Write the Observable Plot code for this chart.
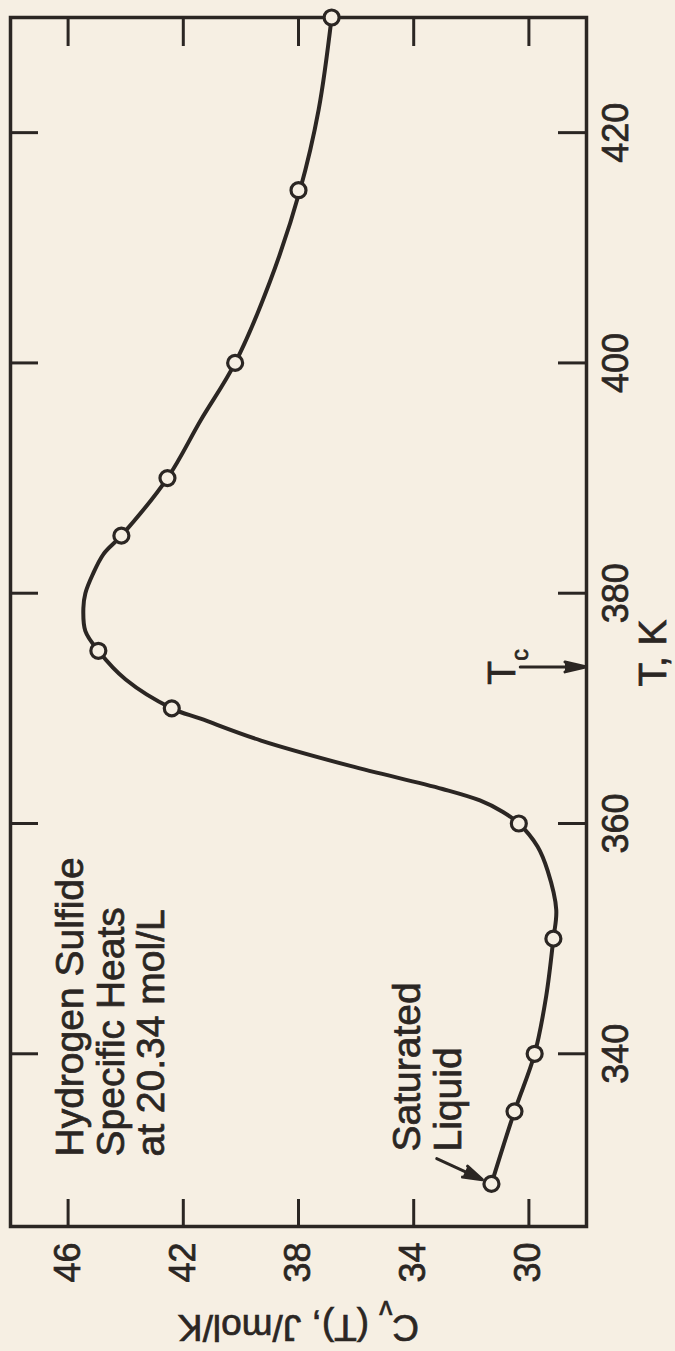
<!DOCTYPE html>
<html>
<head>
<meta charset="utf-8">
<script src="https://cdn.jsdelivr.net/npm/d3@7"></script>
<script src="https://cdn.jsdelivr.net/npm/@observablehq/plot@0.6"></script>
<style>
html, body { margin: 0; padding: 0; background: #f6efe3; overflow: hidden; width: 675px; height: 1351px; }
#wrap { position: absolute; left: 0; top: 0; width: 1351px; height: 675px; transform-origin: 0 0; transform: translate(0, 1351px) rotate(-90deg); }
#wrap text { stroke: #2b2623; stroke-width: 0.7px; }
</style>
</head>
<body>
<div id="wrap"></div>
<script>
// Measured data points (temperature in K, Cv in J/mol/K)
const pointT  = [328.7, 335, 340, 350, 360, 370, 375, 385, 390, 400, 415, 430];
const pointCv = [31.3, 30.5, 29.8, 29.15, 30.35, 42.4, 44.95, 44.15, 42.55, 40.2, 38.0, 36.85];

// Smooth curve
const curveT  = [328.7, 335, 340, 345, 350, 352.5, 355.9, 358, 360, 361, 362, 363, 365, 367.2, 369.1, 370, 372.5, 375, 376.7, 378.7, 380, 381.6, 383.4, 385, 390, 395, 400, 407, 415, 422, 430];
const curveCv = [31.3, 30.5, 29.8, 29.4, 29.15, 29.05, 29.35, 29.7, 30.35, 30.9, 31.7, 33.0, 36.2, 39.3, 41.4, 42.4, 44.0, 44.95, 45.4, 45.47, 45.4, 45.15, 44.77, 44.15, 42.55, 41.4, 40.2, 39.0, 37.95, 37.3, 36.85];

// Axes
const tDomain  = [325, 430];
const cvDomain = [28, 48];
const tTicks  = [340, 360, 380, 400, 420];
const cvTicks = [30, 34, 38, 42, 46];
const axisLabels = ["T, K", "Cv (T), J/mol/K"];

// Annotations
const titleLines = ["Hydrogen Sulfide", "Specific Heats", "at 20.34 mol/L"];
const noteLines  = ["Saturated", "Liquid"];
const criticalT  = [373.6];
const criticalArrowCv = [30.3, 28.0];
const satArrowT  = [330.9, 328.7];
const satArrowCv = [33.2, 31.3];

const ink = "#2b2623";
const bg = "#f6efe3";

const points = pointT.map((t, i) => ({T: t, Cv: pointCv[i]}));
const curve = curveT.map((t, i) => ({T: t, Cv: curveCv[i]}));

const chart = Plot.plot({
  width: 1351,
  height: 675,
  marginLeft: 124,
  marginRight: 18,
  marginTop: 10,
  marginBottom: 89,
  style: {background: "transparent", fontFamily: "'Liberation Sans', Arial, sans-serif", fontSize: "36px", color: ink},
  x: {domain: tDomain},
  y: {domain: cvDomain},
  marks: [
    Plot.ruleX(tTicks, {x: d => d, insetTop: 548, stroke: ink, strokeWidth: 3}),
    Plot.ruleX(tTicks, {x: d => d, insetBottom: 548, stroke: ink, strokeWidth: 3}),
    Plot.ruleY(cvTicks, {y: d => d, insetRight: 1181, stroke: ink, strokeWidth: 3}),
    Plot.ruleY(cvTicks, {y: d => d, insetLeft: 1181, stroke: ink, strokeWidth: 3}),
    Plot.axisX({ticks: tTicks, tickSize: 0, tickPadding: 16, label: null, fontSize: 36, fill: ink}),
    Plot.axisY({ticks: cvTicks, tickSize: 0, tickPadding: 16, label: null, fontSize: 36, fill: ink}),
    Plot.line(curve, {x: "T", y: "Cv", curve: "catmull-rom", stroke: ink, strokeWidth: 4}),
    Plot.frame({stroke: ink, strokeWidth: 3.5}),
    Plot.dot(points, {x: "T", y: "Cv", r: 7.5, fill: bg, stroke: ink, strokeWidth: 3.2}),
    Plot.text([titleLines.join("\n")], {frameAnchor: "top-left", dx: 70, dy: 43, textAnchor: "start", lineAnchor: "top", lineHeight: 1.05, fontSize: 39, fill: ink}),
    Plot.text([noteLines.join("\n")], {frameAnchor: "bottom-left", dx: 75, dy: -196, textAnchor: "start", lineAnchor: "top", lineHeight: 1.05, fontSize: 39, fill: ink}),
    Plot.arrow([0], {x1: () => satArrowT[0], y1: () => satArrowCv[0], x2: () => satArrowT[1], y2: () => satArrowCv[1], insetEnd: 10, headLength: 15, headAngle: 35, stroke: ink, strokeWidth: 3}),
    Plot.arrow(criticalT, {x: d => d, y1: () => criticalArrowCv[0], y2: () => criticalArrowCv[1], headLength: 24, headAngle: 26, stroke: ink, strokeWidth: 3}),
    Plot.text(criticalT, {x: d => d, frameAnchor: "bottom", dy: -72, text: () => "Tc", textAnchor: "middle", lineAnchor: "bottom", fontSize: 39, fill: ink}),
    Plot.text([axisLabels[0]], {frameAnchor: "bottom", dx: -31, dy: 67, textAnchor: "middle", lineAnchor: "middle", fontSize: 39, fill: ink}),
    Plot.text([axisLabels[1]], {frameAnchor: "left", dx: -100, rotate: -90, textAnchor: "middle", lineAnchor: "middle", fontSize: 37, fill: ink})
  ]
});

chart.querySelectorAll('g[aria-label="arrow"] path').forEach(p => {
  p.setAttribute("fill", ink);
  p.setAttribute("stroke-linejoin", "miter");
});
chart.querySelectorAll("text").forEach(t => {
  if (t.textContent === "Cv (T), J/mol/K") {
    t.innerHTML = 'C<tspan baseline-shift="sub" font-size="70%">v</tspan> (T), J/mol/K';
  } else if (t.textContent === "Tc") {
    t.innerHTML = 'T<tspan baseline-shift="sub" font-size="60%">c</tspan>';
  }
});
document.getElementById("wrap").appendChild(chart);
</script>
</body>
</html>
